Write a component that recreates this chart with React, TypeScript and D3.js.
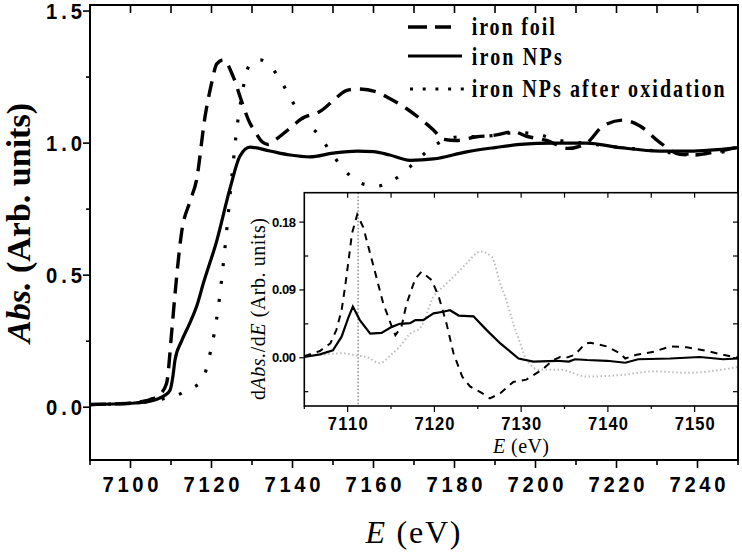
import React from "react";
import * as d3 from "d3";

const W = 742;
const H = 554;

// ---------- main panel: absorption (Arb. units) vs E (eV) ----------
const foilE = [7090, 7095, 7100, 7103, 7105, 7107, 7108.9, 7110.2, 7111, 7112.6, 7114.7, 7116.3, 7118.4, 7120, 7121.3, 7122.9, 7125.4, 7127.4, 7129.5, 7130.7, 7132.5, 7134, 7136, 7139.4, 7142.5, 7146.8, 7150, 7153.4, 7156, 7160.8, 7163.3, 7168.2, 7174.8, 7177.2, 7180.5, 7185.5, 7190, 7194.5, 7197.8, 7202.7, 7208, 7212.6, 7216.7, 7221.7, 7225.8, 7230.5, 7235.6, 7238.9, 7243.8, 7250];
const foilAbs = [0.01, 0.012, 0.015, 0.022, 0.03, 0.045, 0.09, 0.29, 0.43, 0.66, 0.78, 0.86, 1.1, 1.225, 1.3, 1.315, 1.25, 1.16, 1.075, 1.045, 1.005, 0.995, 1.015, 1.057, 1.095, 1.12, 1.16, 1.2, 1.205, 1.194, 1.175, 1.13, 1.05, 1.015, 1.01, 1.024, 1.03, 1.043, 1.026, 1.01, 0.98, 1.0, 1.065, 1.087, 1.065, 1.005, 0.958, 0.955, 0.965, 0.985];

const npE = [7090, 7100, 7104, 7106.5, 7108.5, 7109.75, 7110.5, 7111, 7112.6, 7114.7, 7116.5, 7118, 7121.3, 7124.6, 7127, 7129.5, 7134.4, 7139.4, 7144.3, 7150, 7156, 7160, 7164, 7169, 7174.8, 7183, 7190, 7196.2, 7204.4, 7212.6, 7220.9, 7230.7, 7239, 7245, 7250];
const npAbs = [0.01, 0.015, 0.02, 0.03, 0.045, 0.064, 0.12, 0.18, 0.25, 0.32, 0.39, 0.47, 0.63, 0.83, 0.95, 0.985, 0.97, 0.955, 0.948, 0.962, 0.97, 0.968, 0.955, 0.935, 0.94, 0.967, 0.983, 0.995, 1.0, 1.0, 0.983, 0.97, 0.97, 0.975, 0.983];

const oxE = [7090, 7100, 7106, 7109, 7111.4, 7113.9, 7117.6, 7119.6, 7121.7, 7123.5, 7125.1, 7126.3, 7127.6, 7128.5, 7130.1, 7132, 7134.6, 7137.5, 7140, 7142.8, 7146.5, 7149.4, 7152.5, 7156.6, 7160.8, 7164.9, 7169, 7173.1, 7177.2, 7181.4, 7186, 7190.4, 7195, 7200, 7206, 7212, 7220, 7230, 7237, 7244, 7250];
const oxAbs = [0.01, 0.015, 0.025, 0.035, 0.045, 0.064, 0.1, 0.2, 0.38, 0.63, 0.885, 1.06, 1.19, 1.26, 1.31, 1.315, 1.29, 1.226, 1.157, 1.09, 1.03, 0.967, 0.904, 0.85, 0.837, 0.86, 0.91, 0.967, 1.01, 1.024, 1.025, 1.03, 1.04, 1.035, 1.01, 1.0, 0.985, 0.97, 0.958, 0.962, 0.98];

// ---------- inset: dAbs./dE ----------
const dFoilE = [7105, 7106.8, 7108, 7108.7, 7109.3, 7109.7, 7110.1, 7110.5, 7111.1, 7111.8, 7112.6, 7113.4, 7114.1, 7115.1, 7115.5, 7116.2, 7116.8, 7117.8, 7118.5, 7119.7, 7120.5, 7121.4, 7122.2, 7123.2, 7124.1, 7125.5, 7126.4, 7127.6, 7129.1, 7130.6, 7132.4, 7133.7, 7134.5, 7135.2, 7136.2, 7137.4, 7138, 7139.9, 7141.4, 7142, 7143.3, 7145.3, 7147.2, 7149.1, 7151.4, 7153.3, 7155];
const dFoil = [0.002, 0.009, 0.019, 0.037, 0.063, 0.094, 0.129, 0.165, 0.19, 0.173, 0.138, 0.103, 0.072, 0.041, 0.03, 0.041, 0.072, 0.105, 0.114, 0.103, 0.081, 0.045, 0.006, -0.025, -0.038, -0.047, -0.054, -0.047, -0.032, -0.029, -0.016, -0.003, 0.001, 0.0, 0.004, 0.019, 0.02, 0.015, 0.006, -0.001, 0.004, 0.008, 0.015, 0.014, 0.009, 0.004, 0.0];

const dNpE = [7105, 7106.8, 7108.3, 7109.3, 7110.1, 7110.6, 7111.4, 7112.6, 7113.9, 7115.1, 7116, 7117.2, 7117.8, 7118.7, 7119.9, 7121, 7121.8, 7122.8, 7124.5, 7126, 7127.6, 7129.7, 7131.4, 7134.1, 7135.5, 7136.2, 7137.6, 7139.9, 7142, 7143.5, 7147.2, 7150.6, 7153.3, 7155];
const dNp = [0.001, 0.0045, 0.01, 0.028, 0.054, 0.068, 0.05, 0.032, 0.033, 0.041, 0.045, 0.046, 0.05, 0.05, 0.059, 0.061, 0.063, 0.056, 0.055, 0.037, 0.019, -0.001, -0.005, -0.004, -0.005, -0.002, -0.003, -0.004, -0.0066, -0.002, -0.001, 0.001, -0.002, -0.001];

const dOxE = [7105, 7107, 7109.5, 7111, 7112.2, 7113.7, 7115, 7116, 7117.2, 7118.4, 7119.9, 7121, 7122.6, 7123.7, 7125.3, 7126.6, 7127.6, 7128.3, 7129.1, 7129.9, 7130.6, 7132.2, 7134.5, 7137.6, 7141.4, 7145.3, 7149.1, 7153, 7155];
const dOx = [0.002, 0.004, 0.006, 0.003, 0.001, -0.007, 0.004, 0.015, 0.032, 0.04, 0.081, 0.094, 0.112, 0.125, 0.141, 0.134, 0.098, 0.076, 0.045, 0.019, -0.003, -0.016, -0.016, -0.025, -0.023, -0.018, -0.02, -0.016, -0.012];

const edgeMarker = 7111.2;

// ---------- ticks & labels ----------
const mainXTicks = [7100, 7120, 7140, 7160, 7180, 7200, 7220, 7240];
const mainXMinor = [7090, 7110, 7130, 7150, 7170, 7190, 7210, 7230, 7250];
const mainYTicks = [0, 0.5, 1.0, 1.5];
const mainYLabels = ["0.0", "0.5", "1.0", "1.5"];
const mainYMinor = [0.25, 0.75, 1.25];
const insetXTicks = [7110, 7120, 7130, 7140, 7150];
const insetXMinor = [7105, 7115, 7125, 7135, 7145, 7155];
const insetYTicks = [0, 0.09, 0.18];
const insetYLabels = ["0.00", "0.09", "0.18"];
const insetYMinor = [-0.045, 0.045, 0.135];
const legendNames = ["iron foil", "iron NPs", "iron NPs after oxidation"];
const legendWidths = [83, 90, 253];

const SANS = "'Liberation Sans', Arial, Helvetica, sans-serif";
const SERIF = "'Liberation Serif', 'Times New Roman', Times, serif";
const SQ = 0.92; // slight horizontal condensing of the label glyphs

export default function App() {
  const xM = d3.scaleLinear().domain([7090, 7250]).range([90, 738]);
  const yM = d3.scaleLinear().domain([-0.2, 1.523]).range([460, 5]);
  const xI = d3.scaleLinear().domain([7105, 7155]).range([304.3, 738]);
  const yI = d3.scaleLinear().domain([-0.064, 0.219]).range([406, 192.7]);

  const mainPath = (E: number[], V: number[]) =>
    d3
      .line<number>()
      .x((_, i) => xM(E[i]))
      .y((v) => yM(v))
      .curve(d3.curveMonotoneX)(V) || "";
  const insetPath = (E: number[], V: number[], curve: any) =>
    d3
      .line<number>()
      .x((_, i) => xI(E[i]))
      .y((v) => yI(v))
      .curve(curve)(V) || "";

  const [mx0, mx1] = xM.range();
  const [my1, my0] = yM.range();
  const [ix0, ix1] = xI.range();
  const [iy1, iy0] = yI.range();

  const legendRows = [27, 56, 89];
  const legendBase = [35, 65, 97];

  return (
    <svg
      width={W}
      height={H}
      style={{ position: "absolute", left: 0, top: 0, background: "#fff" }}
    >
      <rect x={0} y={0} width={W} height={H} fill="#fff" />
      <defs>
        <clipPath id="mainClip">
          <rect x={mx0} y={my0} width={mx1 - mx0} height={my1 - my0} />
        </clipPath>
        <clipPath id="insetClip">
          <rect x={ix0} y={iy0} width={ix1 - ix0} height={iy1 - iy0} />
        </clipPath>
      </defs>

      {/* main curves */}
      <g clipPath="url(#mainClip)" fill="none" stroke="#000">
        <path d={mainPath(oxE, oxAbs)} strokeWidth={3.2} strokeDasharray="3,15" />
        <path d={mainPath(foilE, foilAbs)} strokeWidth={3.4} strokeDasharray="16,9" />
        <path d={mainPath(npE, npAbs)} strokeWidth={3.2} />
      </g>

      {/* main frame */}
      <rect x={mx0} y={my0} width={mx1 - mx0} height={my1 - my0} fill="none" stroke="#000" strokeWidth={2} />

      {/* main ticks */}
      <g stroke="#000" strokeWidth={1.6}>
        {d3.range(7100, 7250, 10).map((v) => (
          <line key={"t" + v} x1={xM(v)} x2={xM(v)} y1={my0} y2={my0 + 8} />
        ))}
        {mainXTicks.map((v) => (
          <line key={"b" + v} x1={xM(v)} x2={xM(v)} y1={my1} y2={my1 + 8} />
        ))}
        {mainXMinor.map((v) => (
          <line key={"bm" + v} x1={xM(v)} x2={xM(v)} y1={my1} y2={my1 + 5} />
        ))}
        {mainYTicks.map((v) => (
          <line key={"l" + v} x1={mx0 - 7} x2={mx0} y1={yM(v)} y2={yM(v)} />
        ))}
        {mainYMinor.map((v) => (
          <line key={"lm" + v} x1={mx0 - 4} x2={mx0} y1={yM(v)} y2={yM(v)} />
        ))}
      </g>

      {/* main tick labels */}
      <g fontFamily={SANS} fontWeight="bold" fontSize={22} fill="#000">
        {mainXTicks.map((v) => (
          <text
            key={"xl" + v}
            transform={`translate(${xM(v)},492) scale(${SQ},1)`}
            textAnchor="middle"
            textLength={56 / SQ}
            lengthAdjust="spacing"
          >
            {String(v)}
          </text>
        ))}
        {mainYTicks.map((v, i) => (
          <text
            key={"yl" + v}
            transform={`translate(82,${yM(v) + 7.8}) scale(${SQ},1)`}
            textAnchor="end"
            textLength={36 / SQ}
            lengthAdjust="spacing"
          >
            {mainYLabels[i]}
          </text>
        ))}
      </g>

      {/* main axis titles */}
      <text
        transform="translate(30,223) rotate(-90)"
        textAnchor="middle"
        fontFamily={SERIF}
        fontWeight="bold"
        fontSize={34}
        textLength={240}
        lengthAdjust="spacingAndGlyphs"
      >
        <tspan fontStyle="italic">Abs.</tspan>
        {" (Arb. units)"}
      </text>
      <text x={413} y={543} textAnchor="middle" fontFamily={SERIF} fontSize={32} textLength={95} lengthAdjust="spacing">
        <tspan fontStyle="italic">E</tspan>
        {" (eV)"}
      </text>

      {/* legend */}
      <g stroke="#000" fill="none">
        <line x1={408} x2={451} y1={legendRows[0]} y2={legendRows[0]} strokeWidth={3.4} strokeDasharray="19,8" />
        <line x1={408} x2={462} y1={legendRows[1]} y2={legendRows[1]} strokeWidth={3.2} />
        <line x1={410} x2={464} y1={legendRows[2]} y2={legendRows[2]} strokeWidth={3.2} strokeDasharray="3,9.7" />
      </g>
      <g fontFamily={SERIF} fontWeight="bold" fontSize={25} fill="#000">
        {legendNames.map((n, i) => (
          <text
            key={n}
            transform={`translate(471.7,${legendBase[i]}) scale(0.8,1)`}
            textLength={legendWidths[i] / 0.8}
            lengthAdjust="spacing"
          >
            {n}
          </text>
        ))}
      </g>

      {/* inset */}
      <rect x={ix0} y={iy0} width={ix1 - ix0} height={iy1 - iy0} fill="#fff" stroke="none" />
      <g clipPath="url(#insetClip)" fill="none">
        <line x1={xI(edgeMarker)} x2={xI(edgeMarker)} y1={iy0} y2={iy1} stroke="#777" strokeWidth={1.3} strokeDasharray="1.5,2" />
        <path d={insetPath(dOxE, dOx, d3.curveMonotoneX)} stroke="#bdbdbd" strokeWidth={2} strokeDasharray="1.5,2.5" />
        <path d={insetPath(dFoilE, dFoil, d3.curveLinear)} stroke="#000" strokeWidth={2} strokeDasharray="7,6" />
        <path d={insetPath(dNpE, dNp, d3.curveLinear)} stroke="#000" strokeWidth={2.2} />
      </g>
      <rect x={ix0} y={iy0} width={ix1 - ix0} height={iy1 - iy0} fill="none" stroke="#000" strokeWidth={1.6} />

      <g stroke="#000" strokeWidth={1.2}>
        {d3.range(7110, 7155, 5).map((v) => (
          <line key={"it" + v} x1={xI(v)} x2={xI(v)} y1={iy0} y2={iy0 + 5} />
        ))}
        {insetXTicks.map((v) => (
          <line key={"ib" + v} x1={xI(v)} x2={xI(v)} y1={iy1} y2={iy1 + 6} />
        ))}
        {insetXMinor.map((v) => (
          <line key={"ibm" + v} x1={xI(v)} x2={xI(v)} y1={iy1} y2={iy1 + 3} />
        ))}
        {insetYTicks.map((v) => (
          <line key={"il" + v} x1={ix0 - 5} x2={ix0} y1={yI(v)} y2={yI(v)} />
        ))}
        {insetYMinor.map((v) => (
          <line key={"ilm" + v} x1={ix0} x2={ix0 + 4} y1={yI(v)} y2={yI(v)} />
        ))}
        {[...insetYTicks, ...insetYMinor].map((v) => (
          <line key={"ir" + v} x1={ix1 - 5} x2={ix1} y1={yI(v)} y2={yI(v)} />
        ))}
      </g>

      <g fontFamily={SANS} fontWeight="bold" fill="#000">
        {insetXTicks.map((v) => (
          <text
            key={"ixl" + v}
            transform={`translate(${xI(v)},430) scale(${SQ},1)`}
            fontSize={18}
            textAnchor="middle"
            textLength={40 / SQ}
            lengthAdjust="spacing"
          >
            {String(v)}
          </text>
        ))}
        {insetYTicks.map((v, i) => (
          <text key={"iyl" + v} x={296} y={yI(v) + 4.5} fontSize={13} textAnchor="end" textLength={24} lengthAdjust="spacing">
            {insetYLabels[i]}
          </text>
        ))}
      </g>

      <text
        transform="translate(265,309) rotate(-90)"
        textAnchor="middle"
        fontFamily={SERIF}
        fontSize={20}
        textLength={182}
        lengthAdjust="spacing"
      >
        {"d"}
        <tspan fontStyle="italic">Abs.</tspan>
        {"/d"}
        <tspan fontStyle="italic">E</tspan>
        {" (Arb. units)"}
      </text>
      <text x={521} y={452.5} textAnchor="middle" fontFamily={SERIF} fontSize={20} textLength={56} lengthAdjust="spacing">
        <tspan fontStyle="italic">E</tspan>
        {" (eV)"}
      </text>
    </svg>
  );
}
